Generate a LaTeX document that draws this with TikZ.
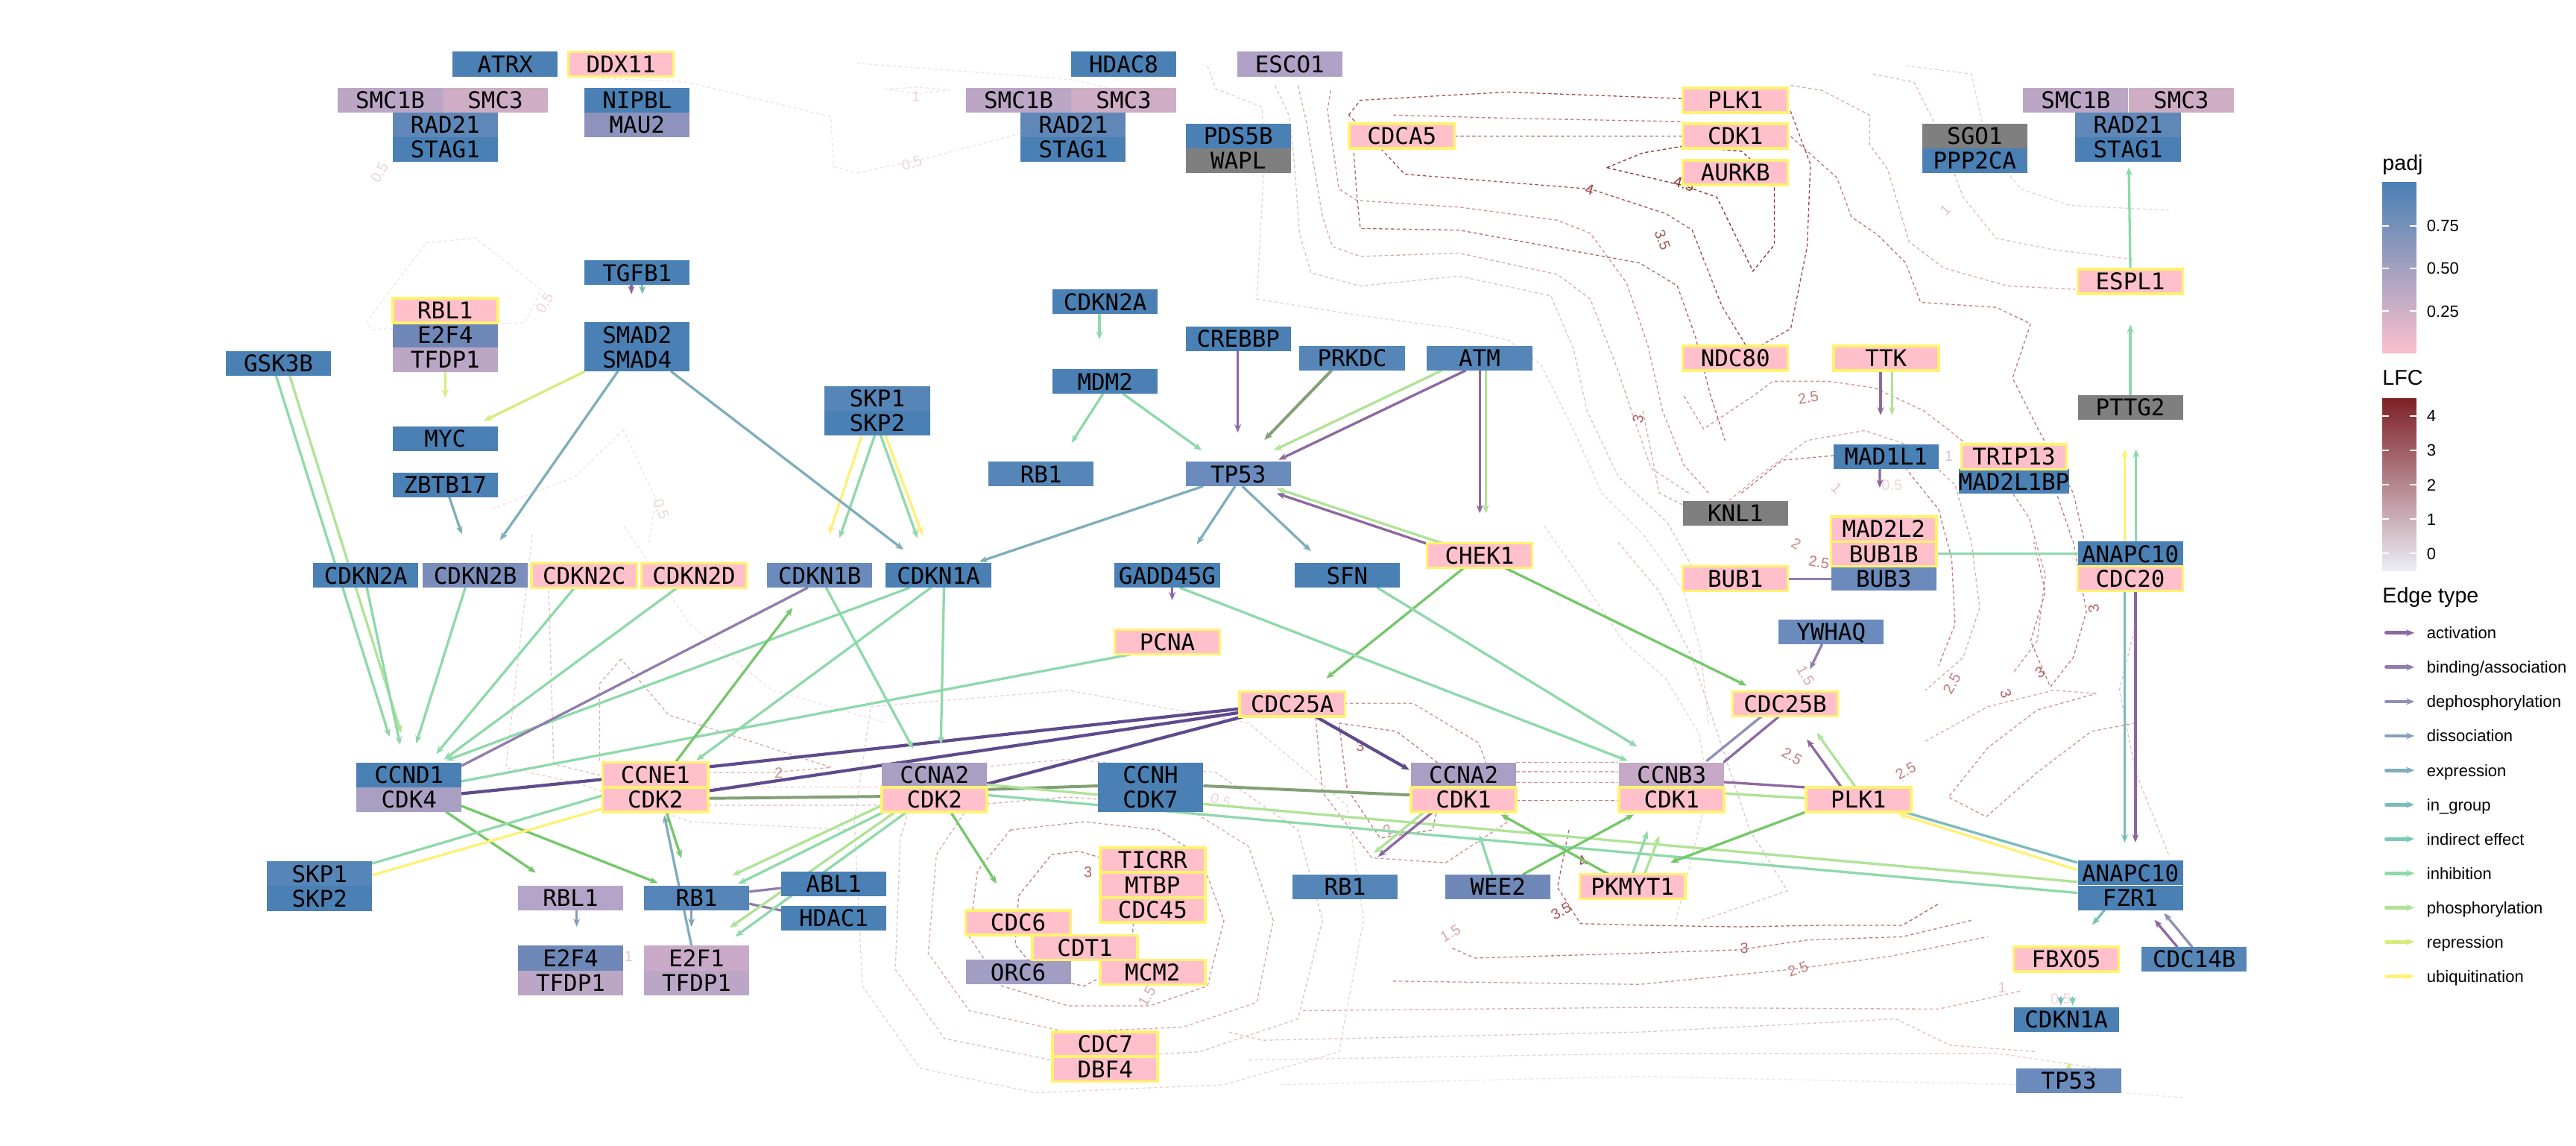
\documentclass[tikz,border=0pt]{standalone}
\usepackage{fontspec}
\setmainfont{Liberation Sans}
\newfontfamily\gfont{DejaVu Sans Mono}
\usetikzlibrary{arrows.meta}
\pgfdeclarelayer{cont}\pgfdeclarelayer{bg}
\pgfsetlayers{cont,bg,main}
% node colours
\definecolor{sb}{HTML}{4A80B4}\definecolor{sb2}{HTML}{5685B7}\definecolor{sb2b}{HTML}{5F87B8}
\definecolor{sb3}{HTML}{6A8BBC}\definecolor{sb4}{HTML}{7088B8}\definecolor{sb5}{HTML}{7A8DBB}
\definecolor{lav}{HTML}{A89FC2}\definecolor{lav2}{HTML}{BBA6C6}\definecolor{lav2b}{HTML}{B4A5C8}
\definecolor{lav3}{HTML}{C6A9C6}\definecolor{lav4}{HTML}{CEADC5}\definecolor{lav4b}{HTML}{C9AAC9}
\definecolor{mau}{HTML}{8E93BD}\definecolor{esc}{HTML}{AFA2C6}\definecolor{orc}{HTML}{A19DC3}
\definecolor{gry}{HTML}{7F7F7F}\definecolor{pk}{HTML}{FFC0CB}\definecolor{glow}{HTML}{FFF36E}
% edge colours
\definecolor{cact}{HTML}{8D68A0}\definecolor{cbnd}{HTML}{917CAD}\definecolor{cdep}{HTML}{8D8FB7}
\definecolor{cdis}{HTML}{86A0BB}\definecolor{cexp}{HTML}{7FAEBB}\definecolor{cing}{HTML}{7ABCBA}
\definecolor{cind}{HTML}{7ACBB5}\definecolor{cinh}{HTML}{8ED9AA}\definecolor{cpho}{HTML}{AFE397}
\definecolor{crep}{HTML}{D6EC7D}\definecolor{cubq}{HTML}{FEF175}\definecolor{cdk}{HTML}{5E4A8C}
\definecolor{colv}{HTML}{82A075}\definecolor{cphs}{HTML}{74C869}
% contour colours
\definecolor{c05}{HTML}{F3E3E5}\definecolor{c1}{HTML}{ECD2D2}\definecolor{c15}{HTML}{E5C0C0}
\definecolor{c2}{HTML}{DCAAAA}\definecolor{c25}{HTML}{CF9494}\definecolor{c3}{HTML}{C27C7C}
\definecolor{c35}{HTML}{B36666}\definecolor{c4}{HTML}{A45050}\definecolor{c45}{HTML}{8E3838}
\definecolor{l05}{HTML}{EDD6D8}\definecolor{l1}{HTML}{E4C4C4}\definecolor{l15}{HTML}{D8AAAA}
\definecolor{l2}{HTML}{CB9090}\definecolor{l25}{HTML}{C17C7C}\definecolor{l3}{HTML}{B26363}
\definecolor{l35}{HTML}{A85555}\definecolor{l4}{HTML}{9C4444}\definecolor{l45}{HTML}{8B3030}
% legend colours
\definecolor{pbtop}{HTML}{4A80B4}\definecolor{pbmid}{HTML}{A99EC2}\definecolor{pbbot}{HTML}{FBC0CC}
\definecolor{lftop}{HTML}{7E2125}\definecolor{lfmid}{HTML}{C99393}\definecolor{lfbot}{HTML}{ECEDF8}

\tikzset{
 gene/.style={rectangle, minimum width=64pt, minimum height=15pt, inner sep=0pt,
   text height=10.2pt, text depth=0pt, font=\gfont\fontsize{14}{14}\selectfont},
 hl/.style={draw=glow, line width=1.6pt},
 ebase/.style={line width=1.5pt, line cap=round, -{Stealth[length=5pt,width=4pt]}},
 eact/.style={ebase, draw=cact}, ebnd/.style={ebase, draw=cbnd}, edep/.style={ebase, draw=cdep},
 edis/.style={ebase, draw=cdis}, eexp/.style={ebase, draw=cexp}, eing/.style={ebase, draw=cing},
 eind/.style={ebase, draw=cind}, einh/.style={ebase, draw=cinh}, epho/.style={ebase, draw=cpho},
 erep/.style={ebase, draw=crep}, eubq/.style={ebase, draw=cubq},
 edk/.style={ebase, draw=cdk, line width=1.9pt}, eolv/.style={ebase, draw=colv, line width=1.8pt},
 ephs/.style={ebase, draw=cphs},
 ct/.style={draw=#1, dash pattern=on 2pt off 1.6pt, line width=0.6pt},
 clb/.style={text=#1, font=\fontsize{9}{9}\selectfont, inner sep=0pt},
 lg/.style={font=\fontsize{10}{10}\selectfont, anchor=base west, inner sep=0pt},
 lgt/.style={font=\fontsize{13}{13}\selectfont, anchor=base west, inner sep=0pt},
}
\newcommand\genebox[6][]{\node[gene,fill=#5,#1] (#2) at (#3,#4) {#6};}
\newcommand\edg[5]{\draw[#1] ([shift={#3}]#2.center) -- ([shift={#5}]#4.center);}
\newcommand\clab[6]{\node[clb=#5, rotate=#4] (#1) at (#2,#3) {#6};}
\newcommand\legitem[4]{\draw[ebase, draw=#3, line width=2.2pt] (1452.5,#2) -- (1469.6,#2);
  \node[lg] (#1) at (1477,#2+3.6) {#4};}

\begin{document}
\begin{tikzpicture}[x=1pt,y=-1pt]
\useasboundingbox (0,0) rectangle (1568,697);

% ---------------- nodes ----------------
\genebox{atrx}{307.5}{39}{sb}{ATRX}
\genebox[hl]{ddx11}{378}{39}{pk}{DDX11}
\genebox{smc1bA}{237.5}{61}{lav2}{SMC1B}
\genebox{smc3A}{301.5}{61}{lav4}{SMC3}
\genebox{rad21A}{271}{76}{sb2b}{RAD21}
\genebox{stag1A}{271}{91}{sb}{STAG1}
\genebox{nipbl}{387.8}{61}{sb}{NIPBL}
\genebox{mau2}{387.8}{76}{mau}{MAU2}
\genebox{hdac8}{684}{39}{sb}{HDAC8}
\genebox{esco1}{785}{39}{esc}{ESCO1}
\genebox{smc1bB}{620}{61}{lav2}{SMC1B}
\genebox{smc3B}{684}{61}{lav4}{SMC3}
\genebox{rad21B}{653.3}{76}{sb2b}{RAD21}
\genebox{stag1B}{653.3}{91}{sb}{STAG1}
\genebox{pds5b}{753.7}{82.8}{sb}{PDS5B}
\genebox{wapl}{753.7}{97.8}{gry}{WAPL}
\genebox[hl]{cdca5}{853.3}{82.8}{pk}{CDCA5}
\genebox[hl]{plk1t}{1056.3}{61}{pk}{PLK1}
\genebox[hl]{cdk1t}{1056.3}{82.8}{pk}{CDK1}
\genebox[hl]{aurkb}{1056.3}{105.1}{pk}{AURKB}
\genebox{sgo1}{1202}{82.8}{gry}{SGO1}
\genebox{ppp2ca}{1202}{97.8}{sb}{PPP2CA}
\genebox{smc1bC}{1263.5}{61}{lav2}{SMC1B}
\genebox{smc3C}{1327.7}{61}{lav4}{SMC3}
\genebox{rad21C}{1295.3}{76}{sb2b}{RAD21}
\genebox{stag1C}{1295.3}{91}{sb}{STAG1}
\genebox{tgfb1}{387.8}{166}{sb}{TGFB1}
\genebox[hl]{espl1}{1296.7}{171.3}{pk}{ESPL1}
\genebox{cdkn2aT}{672.7}{183.7}{sb}{CDKN2A}
\genebox{e2f4T}{271}{204}{sb4}{E2F4}
\genebox{tfdp1T}{271}{219}{lav2}{TFDP1}
\genebox[hl]{rbl1T}{271}{189}{pk}{RBL1}
\genebox{smad2}{387.8}{203.6}{sb}{SMAD2}
\genebox{smad4}{387.8}{218.6}{sb}{SMAD4}
\genebox{crebbp}{753.7}{206.3}{sb}{CREBBP}
\genebox{gsk3b}{169.5}{221}{sb}{GSK3B}
\genebox{prkdc}{823}{218}{sb2}{PRKDC}
\genebox{atm}{900.6}{218}{sb2}{ATM}
\genebox[hl]{ndc80}{1056.3}{218}{pk}{NDC80}
\genebox[hl]{ttk}{1148}{218}{pk}{TTK}
\genebox{mdm2}{672.7}{232.2}{sb}{MDM2}
\genebox{skp1T}{534}{242.5}{sb2}{SKP1}
\genebox{skp2T}{534}{257.5}{sb}{SKP2}
\genebox{pttg2}{1296.7}{248}{gry}{PTTG2}
\genebox{myc}{271}{267}{sb}{MYC}
\genebox{mad1l1}{1148}{278}{sb}{MAD1L1}
\genebox{mad2l1bp}{1225.9}{293}{sb}{MAD2L1BP}
\genebox[hl]{trip13}{1225.9}{278}{pk}{TRIP13}
\genebox{rb1T}{633.7}{288.5}{sb2}{RB1}
\genebox{tp53T}{753.7}{288.5}{sb3}{TP53}
\genebox{zbtb17}{271}{295}{sb}{ZBTB17}
\genebox{knl1}{1056.3}{312.3}{gry}{KNL1}
\genebox{bub3}{1146.6}{352}{sb3}{BUB3}
\genebox[hl]{mad2l2}{1146.6}{322}{pk}{MAD2L2}
\genebox[hl]{bub1b}{1146.6}{337}{pk}{BUB1B}
\genebox[hl]{bub1}{1056.3}{352}{pk}{BUB1}
\genebox{anapc10A}{1296.7}{337}{sb}{ANAPC10}
\genebox[hl]{cdc20}{1296.7}{352}{pk}{CDC20}
\genebox[hl]{chek1}{900.6}{338}{pk}{CHEK1}
\genebox{cdkn2aL}{222.6}{350.2}{sb}{CDKN2A}
\genebox{cdkn2b}{289.3}{350.2}{sb5}{CDKN2B}
\genebox[hl]{cdkn2c}{355.6}{350.2}{pk}{CDKN2C}
\genebox[hl]{cdkn2d}{422.4}{350.2}{pk}{CDKN2D}
\genebox{cdkn1b}{499}{350.2}{sb3}{CDKN1B}
\genebox{cdkn1a}{571.2}{350.2}{sb}{CDKN1A}
\genebox{gadd45g}{710.5}{350.2}{sb}{GADD45G}
\genebox{sfn}{820}{350.2}{sb}{SFN}
\genebox{ywhaq}{1114.6}{384.6}{sb3}{YWHAQ}
\genebox[hl]{pcna}{710.5}{390.7}{pk}{PCNA}
\genebox[hl]{cdc25a}{786.6}{428.4}{pk}{CDC25A}
\genebox[hl]{cdc25b}{1086.6}{428.2}{pk}{CDC25B}
\genebox{ccnd1}{249}{471.5}{sb}{CCND1}
\genebox{cdk4}{249}{486.5}{lav}{CDK4}
\genebox[hl]{ccne1}{398.9}{471.5}{pk}{CCNE1}
\genebox[hl]{cdk2A}{398.9}{486.5}{pk}{CDK2}
\genebox{ccna2A}{568.8}{471.5}{lav}{CCNA2}
\genebox[hl]{cdk2B}{568.8}{486.5}{pk}{CDK2}
\genebox{ccnh}{700.3}{471.5}{sb}{CCNH}
\genebox{cdk7}{700.3}{486.5}{sb}{CDK7}
\genebox{ccna2B}{890.9}{471.5}{lav}{CCNA2}
\genebox[hl]{cdk1A}{890.9}{486.5}{pk}{CDK1}
\genebox{ccnb3}{1017.5}{471.5}{lav3}{CCNB3}
\genebox[hl]{cdk1B}{1017.5}{486.5}{pk}{CDK1}
\genebox[hl]{plk1m}{1131.2}{486.6}{pk}{PLK1}
\genebox[hl]{ticrr}{701.6}{523.4}{pk}{TICRR}
\genebox[hl]{mtbp}{701.6}{538.6}{pk}{MTBP}
\genebox[hl]{cdc45}{701.6}{553.8}{pk}{CDC45}
\genebox{skp1L}{194.5}{531.7}{sb2}{SKP1}
\genebox{skp2L}{194.5}{546.7}{sb}{SKP2}
\genebox{anapc10B}{1296.7}{531.2}{sb}{ANAPC10}
\genebox{fzr1}{1296.7}{546.4}{sb}{FZR1}
\genebox{abl1}{507.5}{537.8}{sb}{ABL1}
\genebox{hdac1}{507.5}{558.8}{sb}{HDAC1}
\genebox{rbl1L}{347.3}{546.5}{lav2b}{RBL1}
\genebox{rb1L}{424}{546.5}{sb2}{RB1}
\genebox{rb1M}{818.7}{539.5}{sb2}{RB1}
\genebox{wee2}{911.8}{539.5}{sb4}{WEE2}
\genebox[hl]{pkmyt1}{993.7}{539.5}{pk}{PKMYT1}
\genebox{orc6}{619.8}{591.6}{orc}{ORC6}
\genebox[hl]{cdc6}{619.8}{561.5}{pk}{CDC6}
\genebox[hl]{mcm2}{701.6}{591.6}{pk}{MCM2}
\genebox[hl]{cdt1}{660.4}{576.6}{pk}{CDT1}
\genebox{e2f4L}{347.3}{583}{sb4}{E2F4}
\genebox{tfdp1L}{347.3}{598}{lav2}{TFDP1}
\genebox{e2f1}{424}{583}{lav4b}{E2F1}
\genebox{tfdp1M}{424}{598}{lav2}{TFDP1}
\genebox[hl]{fbxo5}{1257.7}{583.7}{pk}{FBXO5}
\genebox{cdc14b}{1335.6}{583.7}{sb2}{CDC14B}
\genebox{cdkn1aR}{1257.7}{620.4}{sb}{CDKN1A}
\genebox{tp53R}{1259.3}{657.6}{sb3}{TP53}
\genebox[hl]{cdc7}{672.7}{635.5}{pk}{CDC7}
\genebox[hl]{dbf4}{672.7}{650.5}{pk}{DBF4}

% ---------------- edges ----------------
\begin{pgfonlayer}{bg}
\edg{einh}{gsk3b}{(-1.5,7.5)}{ccnd1}{(-11.9,-23.1)}
\edg{epho}{gsk3b}{(6.8,7.5)}{ccnd1}{(-4.8,-25.4)}
\edg{einh}{cdkn2aL}{(0.7,7.5)}{ccnd1}{(-5.4,-18.3)}
\edg{einh}{cdkn2b}{(-6.1,7.5)}{ccnd1}{(4.3,-19.1)}
\edg{einh}{cdkn2c}{(-6,7.5)}{ccnd1}{(16.5,-12.7)}
\edg{einh}{cdkn2d}{(-10.3,7.5)}{ccnd1}{(21.2,-9.3)}
\edg{einh}{cdkn1a}{(-17.7,7.5)}{ccnd1}{(22.5,-8.7)}
\edg{ebnd,-}{cdkn1b}{(-7.5,7.5)}{ccnd1}{(32.1,-5.6)}
\edg{einh,-}{pcna}{(-22.3,7.5)}{ccnd1}{(32.1,3.9)}
\edg{edk,-}{cdk4}{(32.1,-3.6)}{ccne1}{(-32.6,2.8)}
\edg{edk,-}{ccne1}{(32.6,-4.9)}{cdc25a}{(-32.1,2.9)}
\edg{edk,-}{cdk2A}{(32.6,-5.3)}{cdc25a}{(-32.1,5.2)}
\edg{edk,-}{ccna2A}{(32.1,5.5)}{cdc25a}{(-29,7.4)}
\edg{eolv,-}{cdk2A}{(32.6,-0.7)}{cdk2B}{(-32,-1.9)}
\edg{eolv,-}{cdk2B}{(32.1,-6.1)}{ccnh}{(-32,6.7)}
\edg{eolv,-}{cdk7}{(32.6,-8.3)}{cdk1A}{(-31.7,-2.7)}
\edg{ephs}{ccne1}{(12.1,-7.5)}{cdkn1b}{(-16.6,19.7)}
\edg{einh}{cdkn1b}{(3.9,7.5)}{ccna2A}{(-13,-15.9)}
\edg{einh}{cdkn1a}{(3.4,7.5)}{ccna2A}{(3.9,-18.6)}
\edg{einh}{cdkn1a}{(-4.7,7.5)}{ccne1}{(24.9,-8.8)}
\edg{ephs}{cdk4}{(22.5,7.5)}{rbl1L}{(-21.1,-15.5)}
\edg{ephs}{cdk4}{(32.1,4)}{rb1L}{(-23.6,-9.2)}
\edg{einh,-}{skp1L}{(32.2,-6.3)}{cdk2A}{(-32.3,-2.4)}
\edg{eubq,-}{skp1L}{(32.2,0.8)}{cdk2A}{(-32.3,5.6)}
\edg{ephs}{cdk2A}{(6.7,7.5)}{rb1L}{(-9.3,-24.3)}
\edg{eexp}{e2f1}{(-3.1,-7.5)}{cdk2A}{(5.4,9.5)}
\edg{edis}{rb1L}{(-3.1,7.5)}{e2f1}{(-3.1,-19)}
\edg{edis}{rbl1L}{(3.7,7.5)}{e2f4L}{(3.7,-19)}
\edg{ebnd,-}{rb1L}{(32.4,-4)}{abl1}{(-32.1,2.6)}
\edg{ebnd,-}{rb1L}{(32.4,3.5)}{hdac1}{(-32.1,-4.8)}
\edg{epho}{cdk2B}{(-31.8,3.5)}{rb1L}{(21.8,-13.8)}
\edg{einh}{cdk2B}{(-28.8,6.5)}{rb1L}{(25.2,-8.6)}
\edg{epho}{cdk2B}{(-23.8,7.5)}{e2f1}{(20.2,-18.5)}
\edg{einh}{cdk2B}{(-16.8,7.5)}{e2f1}{(23.5,-13.1)}
\edg{ephs}{cdk2B}{(9.2,6.5)}{cdc6}{(-13.2,-23.8)}
\edg{epho,-}{cdk2B}{(32.1,-9)}{anapc10B}{(-32.6,5.4)}
\edg{einh,-}{cdk2B}{(32.1,-2.7)}{fzr1}{(-32.6,-3.1)}
\edg{einh}{pkmyt1}{(-0.1,-7.5)}{cdk1B}{(-14.6,19.2)}
\edg{epho}{pkmyt1}{(7.2,-7.5)}{cdk1B}{(-7.4,22.1)}
\edg{einh}{wee2}{(-3.5,-7.5)}{cdk1A}{(9.6,21.4)}
\edg{ephs}{wee2}{(15.3,-7.5)}{cdk1B}{(-23,9.1)}
\edg{ephs}{pkmyt1}{(-14.5,-7.5)}{cdk1A}{(22.6,9.1)}
\edg{ephs}{plk1m}{(-27.6,5.8)}{pkmyt1}{(23.1,-14.7)}
\edg{eact}{plk1m}{(-10.3,-7.5)}{cdc25b}{(13.2,21.7)}
\edg{epho}{plk1m}{(-1.6,-7.5)}{cdc25b}{(19.3,17.7)}
\edg{edep,-}{cdc25b}{(-14,7.4)}{ccnb3}{(21.5,-8.6)}
\edg{eact,-}{cdc25b}{(-3.3,7.4)}{ccnb3}{(32,-7.9)}
\edg{eact,-}{ccnb3}{(32,4.4)}{plk1m}{(-32,-7.5)}
\edg{epho,-}{cdk1B}{(32,-3.7)}{plk1m}{(-32,-0.9)}
\edg{eing}{anapc10B}{(-32.6,-6.4)}{plk1m}{(24.4,6.5)}
\edg{eubq}{anapc10B}{(-32.6,-2)}{plk1m}{(24.4,8.7)}
\edg{eing}{cdc20}{(-3.4,7.5)}{anapc10B}{(-3.4,-18.5)}
\edg{eact}{cdc20}{(3.1,7.5)}{anapc10B}{(3.1,-18.5)}
\edg{eing}{fzr1}{(-15.8,7.5)}{fbxo5}{(15.9,-21)}
\edg{eact}{cdc14b}{(-10.3,-7.5)}{fzr1}{(14.7,13.3)}
\edg{edep}{cdc14b}{(-1.3,-7.5)}{fzr1}{(20.6,9.2)}
\edg{eing}{fbxo5}{(-3.3,23.3)}{cdkn1aR}{(-3.3,-8.5)}
\edg{eind}{fbxo5}{(3.9,23.3)}{cdkn1aR}{(3.9,-8.5)}
\edg{erep}{tp53R}{(0,-7.5)}{cdkn1aR}{(1.6,25.8)}
\edg{einh}{espl1}{(0,-7.5)}{stag1C}{(0.5,10.8)}
\edg{einh}{pttg2}{(0,-7.5)}{espl1}{(0,26.1)}
\edg{eubq}{anapc10A}{(-3.4,-7.5)}{pttg2}{(-3.4,25.4)}
\edg{einh}{anapc10A}{(3.5,-7.5)}{pttg2}{(3.5,25.4)}
\edg{einh,-}{bub1b}{(32.3,-0.2)}{anapc10A}{(-32.1,-0.2)}
\edg{ebnd,-}{bub1}{(32.1,0.2)}{bub3}{(-32,0.2)}
\edg{eact}{ttk}{(-3.3,7.5)}{mad1l1}{(-3.3,-25.3)}
\edg{epho}{ttk}{(3.6,7.5)}{mad1l1}{(3.6,-25.3)}
\edg{eact}{mad1l1}{(-3.8,7.5)}{mad2l2}{(-2.4,-25.2)}
\edg{ebnd}{ywhaq}{(-5.6,7.5)}{cdc25b}{(15.1,-21)}
\edg{ephs}{chek1}{(15.4,7.5)}{cdc25b}{(-23.5,-11)}
\edg{ephs}{chek1}{(-9.5,7.5)}{cdc25a}{(20.7,-15.6)}
\edg{eact}{chek1}{(-32.1,-7.2)}{tp53T}{(23.4,11.7)}
\edg{epho}{chek1}{(-22.8,-7.5)}{tp53T}{(23.4,8.7)}
\edg{epho}{atm}{(-23.1,7.5)}{tp53T}{(21.7,-14.5)}
\edg{eact}{atm}{(-8.6,7.5)}{tp53T}{(24.6,-8.7)}
\edg{eact}{atm}{(0.1,7.5)}{chek1}{(0.1,-25.7)}
\edg{epho}{atm}{(3.8,7.5)}{chek1}{(3.8,-25.7)}
\edg{eolv}{prkdc}{(-12.6,7.5)}{tp53T}{(15.9,-20.8)}
\edg{eact}{crebbp}{(-0.3,7.5)}{tp53T}{(-0.3,-25.3)}
\edg{einh}{mdm2}{(11,7.5)}{tp53T}{(-22.3,-14.5)}
\edg{einh}{mdm2}{(-1.4,7.5)}{rb1T}{(18.5,-19)}
\edg{einh}{cdkn2aT}{(-3.5,7.5)}{mdm2}{(-3.5,-25.6)}
\edg{eexp}{tp53T}{(-21.7,7.5)}{cdkn1a}{(24.8,-8.4)}
\edg{eexp}{tp53T}{(-2,7.5)}{gadd45g}{(18,-19)}
\edg{eexp}{tp53T}{(2.6,7.5)}{sfn}{(-22,-14.8)}
\edg{eubq}{skp2T}{(-9.4,7.5)}{cdkn1b}{(5.6,-25)}
\edg{einh}{skp2T}{(-1.6,7.5)}{cdkn1b}{(12,-22.8)}
\edg{einh}{skp2T}{(2.1,7.5)}{cdkn1a}{(-12.8,-22.8)}
\edg{eubq}{skp2T}{(5,7.5)}{cdkn1a}{(-9.6,-24.3)}
\edg{eexp}{smad4}{(20.8,7.5)}{cdkn1a}{(-21.2,-15.7)}
\edg{eexp}{smad4}{(-11.8,7.5)}{cdkn2b}{(15.1,-21.5)}
\edg{erep}{smad4}{(-32.1,7.5)}{myc}{(23.4,-10.8)}
\edg{erep}{tfdp1T}{(0,7.5)}{myc}{(0,-25)}
\edg{eexp}{zbtb17}{(2.5,7.5)}{cdkn2b}{(-8.2,-25.1)}
\edg{eact}{tgfb1}{(-3.5,7.5)}{smad2}{(-3.5,-24.6)}
\edg{eing}{tgfb1}{(3.2,7.5)}{smad2}{(3.2,-24.6)}
\edg{eact}{gadd45g}{(3,7.5)}{pcna}{(3,-25.5)}
\edg{einh}{gadd45g}{(7.9,7.5)}{ccnb3}{(-26.8,-8.6)}
\edg{einh}{sfn}{(18.5,7.5)}{ccnb3}{(-21,-17.2)}
\edg{edk}{cdc25a}{(14,7.5)}{ccna2B}{(-33,-3)}
\edg{eact}{cdk1A}{(-18.7,7.5)}{rb1M}{(20.1,-18.2)}
\edg{epho}{cdk1A}{(-23.9,7.5)}{rb1M}{(17.6,-20.4)}
\end{pgfonlayer}

% ---------------- contours ----------------
\begin{pgfonlayer}{cont}
\fill[white] (0,0) rectangle (1568,697);
\draw[ct=c1] (735,40)--(740,54)--(768,65)--(770,90)--(765,182)--(828,192)--(888,200)--(918,207)--(938,222)--(958,262)--(975,300)--(1000,325)--(1025,360)--(1035,395)--(1040,440);
\draw[ct=c15] (776,52)--(785,71)--(788,101)--(791,142)--(798,166)--(828,174)--(888,168)--(944,180)--(958,213)--(966,250)--(985,290)--(1015,318)--(1030,345);
\draw[ct=c2] (790,52)--(795,73)--(805,132)--(811,150)--(828,156)--(888,154)--(948,167)--(968,182)--(984,223)--(994,253)--(1005,285)--(1028,300);
\draw[ct=c25] (810,55)--(808,67)--(815,115)--(826,122)--(888,126)--(948,134)--(968,142)--(990,172)--(1003,210)--(1012,250)--(1025,283)--(1040,300);
\draw[ct=c35] (824,93)--(826,120)--(828,139)--(888,140)--(998,160)--(1021,174)--(1032,205)--(1041,240)--(1050,268);
\draw[ct=c4] (821,70)--(828,61)--(917,56)--(1024,60)--(1090,68)--(1102,100)--(1100,150)--(1090,200)--(1065,214)--(1048,186)--(1030,140)--(1014,130)--(968,115)--(855,106)--(841,91)--cycle;
\draw[ct=c45] (978,102)--(1000,93)--(1024,89)--(1060,92)--(1080,110)--(1080,149)--(1067,165)--(1045,120)--(1025,113)--cycle;
\draw[ct=c45] (885.3,82.8)--(1024.3,82.8);
\draw[ct=c3] (848,70)--(920,72)--(1024,74);
\draw[ct=c2] (1090,52)--(1109,55)--(1138,70)--(1138,88)--(1149,103)--(1162,147)--(1183,163)--(1222,174)--(1263,176);
\draw[ct=c3] (1090,83)--(1118,108)--(1127,132)--(1143,143)--(1160,160)--(1169,184)--(1215,187)--(1236,197)--(1225,230)--(1241,262)--(1262,300)--(1270,335);
\draw[ct=c15] (1140,45)--(1165,50)--(1180,80)--(1195,120)--(1215,145)--(1250,152)--(1300,158);
\draw[ct=c1] (1160,40)--(1200,45)--(1210,90)--(1230,115)--(1260,125)--(1320,128);
\draw[ct=c25] (1025,241)--(1037,261)--(1067,241)--(1079,232)--(1113,232)--(1141,236)--(1171,250)--(1188,263)--(1215,285)--(1235,315)--(1245,350)--(1240,390)--(1225,410);
\draw[ct=c2] (1000,250)--(1010,300)--(1040,315)--(1070,290)--(1100,268)--(1135,262)--(1165,272)--(1190,295)--(1200,330)--(1205,370)--(1195,400)--(1172,420);
\draw[ct=c3] (1060,300)--(1085,280)--(1130,276)--(1160,285)--(1180,310)--(1188,340)--(1190,380)--(1180,405);
\draw[ct=c15] (985,330)--(1010,360)--(1030,400)--(1045,445)--(1060,490)--(1065,505)--(1088,542)--(1036,560);
\draw[ct=c1] (940,320)--(965,356)--(988,390)--(1014,413)--(1034,446)--(1040,480)--(1028,529)--(1020,560);
\draw[ct=c3] (1250,295)--(1262,330)--(1270,372)--(1262,400)--(1248,418)--(1236,390)--(1245,360)--(1238,330);
\draw[ct=c25] (1300,440)--(1273,445)--(1240,470)--(1209,497)--(1186,485)--(1210,455)--(1240,432)--(1276,422);
\draw[ct=c2] (1172,451)--(1210,430)--(1250,420)--(1276,422);
\draw[ct=c15] (1300,380)--(1290,420)--(1300,470)--(1320,520);
\draw[ct=c35] (955,505)--(948,540)--(962,562)--(1000,563)--(1058,564)--(1110,563)--(1158,563)--(1180,550);
\draw[ct=c3] (884,577)--(898,583)--(998,580)--(1058,578)--(1100,572)--(1158,570)--(1200,560);
\draw[ct=c25] (848,597)--(998,599)--(1089,590)--(1150,582)--(1210,570);
\draw[ct=c2] (793,615)--(998,613)--(1180,614)--(1230,603);
\draw[ct=c15] (748,628)--(768,633)--(998,628)--(1154,620)--(1187,636)--(1240,640);
\draw[ct=c1] (760,645)--(1002,641)--(1216,641)--(1290,652);
\draw[ct=c05] (780,660)--(1000,655)--(1230,660)--(1330,668);
\draw[ct=c25] (923,464)--(985,464);
\draw[ct=c2] (923,469.5)--(985,469.5);
\draw[ct=c25] (923,476)--(985,476);
\draw[ct=c3] (923,487)--(985,487);
\draw[ct=c15] (431,479)--(536,479);
\draw[ct=c1] (431,490)--(536,490);
\draw[ct=c3] (640,520)--(657,518)--(680,525)--(690,560)--(688,585)--(660,600)--(635,595)--(618,575)--(620,545)--cycle;
\draw[ct=c25] (615,505)--(660,500)--(705,505)--(730,520)--(745,560)--(735,600)--(700,612)--(650,612)--(610,600)--(590,570)--(595,530)--cycle;
\draw[ct=c2] (590,490)--(650,485)--(720,490)--(760,515)--(775,560)--(765,610)--(720,625)--(650,628)--(590,615)--(565,580)--(570,520)--cycle;
\draw[ct=c15] (560,470)--(650,462)--(740,470)--(790,505)--(805,560)--(790,620)--(730,640)--(640,645)--(575,632)--(545,590)--(548,510)--cycle;
\draw[ct=c1] (530,430)--(650,420)--(760,440)--(820,490)--(830,560)--(815,640)--(745,660)--(630,665)--(560,650)--(525,600)--(520,500)--cycle;
\draw[ct=c3] (815,440)--(850,445)--(880,468)--(872,505)--(840,510)--(820,480)--cycle;
\draw[ct=c25] (800,428)--(860,428)--(900,452)--(918,500)--(880,525)--(835,522)--(805,482)--cycle;
\draw[ct=c2] (378,401)--(365,416)--(365,463)--(400,470)--(470,470)--(506,467)--(407,435)--cycle;
\draw[ct=c15] (334,359)--(337,465)--(396,479)--(431,479);
\draw[ct=c1] (324,325)--(308,467)--(350,476)--(420,500)--(520,505);
\draw[ct=c05] (380,320)--(420,380)--(470,420)--(540,440);
\draw[ct=c05] (259.5,147.8)--(289.4,144.8)--(329.4,176.2)--(319.4,196.4)--(226.2,200.5)--(223,196)--(239.5,174)--cycle;
\draw[ct=c05] (366,47.6)--(415.9,49.6)--(505.7,70.9)--(507.4,101.3)--(521.7,105.3);
\draw[ct=c05] (521.8,38.5)--(654.9,48.6)--(700,60);
\draw[ct=c05] (538.4,54.3)--(558.4,53.1)--(578.4,54.7)--(558.4,57)--cycle;
\draw[ct=c05] (521.8,105.3)--(568.4,95.2)--(621.6,81);
\draw[ct=c05] (379.3,261.2)--(399.2,303.8)--(395,330);
\draw[ct=c05] (299.4,309.8)--(350,290)--(379,262);
% contour labels
\clab{k1}{967.6}{115.4}{-15}{l4}{4}
\clab{k2}{1025}{112}{-15}{l45}{4.5}
\clab{k3}{1012}{146}{-70}{l35}{3.5}
\clab{k4}{997}{255}{80}{l3}{3}
\clab{k5}{1100.7}{242}{10}{l25}{2.5}
\clab{k6}{1093.3}{330.8}{-30}{l2}{2}
\clab{k7}{1107.2}{342.3}{-10}{l25}{2.5}
\clab{k8}{1099}{411}{-60}{l15}{1.5}
\clab{k9}{1090.8}{460.2}{-30}{l25}{2.5}
\clab{k10}{1160}{469}{30}{l25}{2.5}
\clab{k11}{1188}{416}{60}{l25}{2.5}
\clab{k12}{1221}{422}{-70}{l3}{3}
\clab{k13}{1241.6}{409}{30}{l3}{3}
\clab{k14}{1274.4}{370.5}{100}{l3}{3}
\clab{k15}{1061.7}{576.8}{0}{l3}{3}
\clab{k16}{1094.4}{589.6}{20}{l25}{2.5}
\clab{k17}{1218.7}{601.2}{0}{l1}{1}
\clab{k18}{1254.4}{607.6}{0}{l05}{0.5}
\clab{k19}{963.3}{524.1}{30}{l4}{4}
\clab{k20}{950.2}{554.3}{30}{l35}{3.5}
\clab{k21}{882.8}{567.9}{30}{l15}{1.5}
\clab{k22}{844.9}{505}{45}{l2}{2}
\clab{k23}{827.9}{453.8}{0}{l3}{3}
\clab{k24}{662.2}{530.7}{0}{l3}{3}
\clab{k25}{698.1}{606.3}{60}{l15}{1.5}
\clab{k26}{743}{487}{-20}{l05}{0.5}
\clab{k27}{474}{470.5}{0}{l2}{2}
\clab{k28}{557.7}{58.7}{0}{l05}{1}
\clab{k29}{555}{99.2}{20}{l05}{0.5}
\clab{k30}{231}{105}{60}{l05}{0.5}
\clab{k31}{331.5}{184.3}{60}{l05}{0.5}
\clab{k32}{402.6}{309.8}{-70}{l05}{0.5}
\clab{k33}{1186.3}{277.7}{0}{l1}{1}
\clab{k34}{1151.6}{295}{0}{l05}{0.5}
\clab{k35}{1118}{297.2}{-45}{l1}{1}
\clab{k36}{1184}{127.9}{45}{l1}{1}
\clab{k37}{382.6}{581.9}{0}{l1}{1}
\end{pgfonlayer}

% ---------------- legend ----------------
\node[lgt] (padjT) at (1450,103.5) {padj};
\shade[top color=pbtop, middle color=pbmid, bottom color=pbbot] (1450,111) rectangle (1470.7,215);
\foreach \yy in {137.3,163.2,189.3}{\draw[white,line width=0.8pt] (1450,\yy)--(1454,\yy) (1466.7,\yy)--(1470.7,\yy);}
\node[lg] (p75) at (1477,140.9) {0.75};
\node[lg] (p50) at (1477,166.8) {0.50};
\node[lg] (p25) at (1477,192.9) {0.25};
\node[lgt] (lfcT) at (1450,234.5) {LFC};
\shade[top color=lftop, middle color=lfmid, bottom color=lfbot] (1450,242.6) rectangle (1470.7,347.4);
\foreach \yy in {253.1,274,295,315.9,336.7}{\draw[white,line width=0.8pt] (1450,\yy)--(1454,\yy) (1466.7,\yy)--(1470.7,\yy);}
\node[lg] (f4) at (1477,256.7) {4};
\node[lg] (f3) at (1477,277.6) {3};
\node[lg] (f2) at (1477,298.6) {2};
\node[lg] (f1) at (1477,319.5) {1};
\node[lg] (f0) at (1477,340.3) {0};
\node[lgt] (etT) at (1450,366.8) {Edge type};
\legitem{g1}{385.1}{cact}{activation}
\legitem{g2}{406.0}{cbnd}{binding/association}
\legitem{g3}{426.9}{cdep}{dephosphorylation}
\legitem{g4}{447.8}{cdis}{dissociation}
\legitem{g5}{468.7}{cexp}{expression}
\legitem{g6}{489.6}{cing}{in\_group}
\legitem{g7}{510.5}{cind}{indirect effect}
\legitem{g8}{531.4}{cinh}{inhibition}
\legitem{g9}{552.3}{cpho}{phosphorylation}
\legitem{g10}{573.2}{crep}{repression}
\legitem{g11}{594.1}{cubq}{ubiquitination}
\end{tikzpicture}
\end{document}
